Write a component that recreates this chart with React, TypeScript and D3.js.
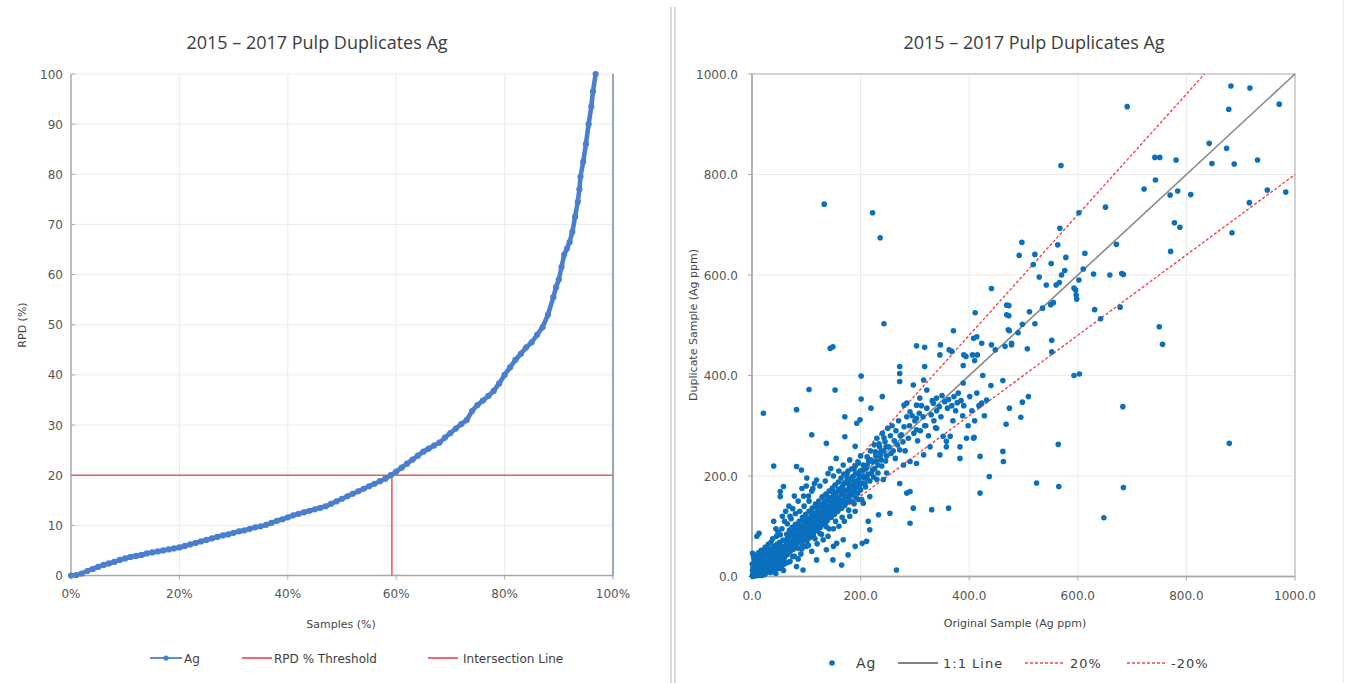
import React from "react";
import * as d3 from "d3";

const W = 1346;
const H = 683;

// ---- Left chart: ranked RPD curve ----
const samplePct = [
  0, 1, 2, 3, 4, 5, 6, 7, 8, 9, 10, 11, 12, 13, 14, 15, 16, 17, 18, 19, 20,
  21, 22, 23, 24, 25, 26, 27, 28, 29, 30, 31, 32, 33, 34, 35, 36, 37, 38, 39, 40,
  41, 42, 43, 44, 45, 46, 47, 48, 49, 50, 51, 52, 53, 54, 55, 56, 57, 58, 59, 60,
  61, 62, 63, 64, 65, 66, 67, 68, 69, 70, 71, 72, 73, 74, 75, 76, 77, 78, 79, 80,
  81, 82, 83, 84, 85, 86, 87, 88, 89, 89.5, 90, 90.5, 91, 91.5, 92, 92.5, 93, 93.5,
  93.8, 94, 94.5, 95, 95.5, 96, 96.3, 96.8,
];
const rpdAg = [
  0, 0.1, 0.4, 0.9, 1.3, 1.7, 2.1, 2.4, 2.7, 3.1, 3.4, 3.7, 3.9, 4.1, 4.4, 4.6, 4.8, 5.0, 5.2, 5.4, 5.6,
  5.9, 6.2, 6.5, 6.8, 7.1, 7.4, 7.7, 8.0, 8.2, 8.5, 8.8, 9.0, 9.3, 9.6, 9.8, 10.1, 10.5, 10.9, 11.2, 11.6,
  12.0, 12.3, 12.6, 12.9, 13.2, 13.5, 13.8, 14.3, 14.8, 15.3, 15.8, 16.3, 16.8, 17.3, 17.8, 18.3, 18.8, 19.3, 20.0, 20.7,
  21.5, 22.3, 23.1, 23.9, 24.7, 25.3, 25.9, 26.5, 27.5, 28.4, 29.3, 30.2, 31.0, 32.8, 34.0, 34.9, 35.8, 36.8, 38.3, 40.0,
  41.5, 43.0, 44.2, 45.5, 46.5, 48.0, 49.5, 52.0, 55.5, 57.5, 59.0, 61.5, 64.0, 65.2, 66.5, 68.5, 71.5, 74.5,
  77.0, 79.5, 82.5, 86.0, 90.0, 93.5, 96.5, 100,
];
const rpdThreshold = 20;
const intersectionPct = 59.2;
const pctTicks = [0, 20, 40, 60, 80, 100];
const rpdTicks = [0, 10, 20, 30, 40, 50, 60, 70, 80, 90, 100];

// ---- Right chart: original vs duplicate (Ag ppm) ----
const ppmTicks = [0, 200, 400, 600, 800, 1000];
const referenceLines = [
  { name: "1:1 Line", slope: 1.0 },
  { name: "20%", slope: 1.2 },
  { name: "-20%", slope: 0.8 },
];

const lowCluster: [number, number][] = [
  [0.5, 1], [1, 3], [2, 0.5], [2, 6], [3, 2], [3, 10], [4, 5], [5, 1], [5, 14], [6, 8], [7, 3], [7, 18],
  [8, 11], [9, 6], [9, 22], [10, 14], [11, 2], [11, 26], [12, 9], [13, 17], [13, 32], [14, 12], [15, 5],
  [15, 22], [16, 38], [17, 15], [18, 8], [18, 28], [19, 19], [20, 44], [21, 12], [21, 33], [22, 24], [23, 4],
  [23, 16], [24, 38], [25, 28], [26, 10], [26, 48], [27, 20], [28, 34], [29, 14], [29, 42], [30, 26], [31, 52],
  [32, 18], [32, 36], [33, 30], [34, 8], [34, 46], [35, 22], [36, 40], [37, 56], [38, 30], [38, 16], [39, 46],
  [40, 36], [41, 24], [41, 60], [42, 42], [43, 32], [44, 52], [45, 18], [45, 40], [46, 64], [47, 46], [48, 30],
  [48, 56], [49, 38], [50, 48], [51, 68], [52, 26], [52, 54], [53, 42], [54, 60], [55, 34], [56, 50], [57, 72],
  [58, 44], [59, 58], [60, 38],
  [1, 46], [3, 38], [4, 28], [6, 42], [8, 36], [12, 47], [14, 44], [17, 52], [13, 86], [9, 80], [24, 58],
  [30, 64], [2, 18], [0.5, 25], [1, 12],
  [18, 2], [25, 6], [30, 10], [36, 12], [42, 14], [44, 6], [50, 16], [55, 20], [58, 12],
];

const midCluster: [number, number][] = [
  [61, 72], [62, 52], [63, 64], [64, 84], [65, 44], [66, 58], [67, 76], [68, 66], [69, 92], [70, 50], [71, 70],
  [72, 60], [73, 82], [74, 98], [75, 66], [76, 54], [77, 78], [78, 88], [79, 70], [80, 104], [81, 62], [82, 84],
  [83, 74], [84, 96], [85, 56], [86, 80], [87, 110], [88, 70], [89, 90], [90, 82], [91, 100], [92, 64], [93, 118],
  [94, 86], [95, 76], [96, 96], [97, 106], [98, 80], [99, 124], [100, 92], [101, 70], [102, 108], [103, 98],
  [104, 86], [105, 130], [106, 114], [107, 94], [108, 80], [109, 120], [110, 104], [111, 136], [112, 96],
  [113, 112], [114, 88], [115, 126], [116, 108], [117, 144], [118, 100], [119, 118], [120, 92], [121, 132],
  [122, 114], [123, 150], [124, 106], [125, 124], [126, 98], [127, 138], [128, 120], [129, 158], [130, 110],
  [131, 128], [132, 144], [133, 104], [134, 134], [135, 118], [136, 164], [137, 126], [138, 150], [139, 112],
  [140, 140], [141, 130], [142, 170], [143, 122], [144, 156], [145, 136], [146, 118], [147, 148], [148, 176],
  [149, 132], [150, 160], [151, 142], [152, 124], [153, 182], [154, 152], [155, 138], [156, 168], [157, 146],
  [158, 130], [159, 188], [160, 158], [161, 144], [162, 174], [163, 150], [164, 196], [165, 136], [166, 164],
  [167, 180], [168, 152], [169, 204], [170, 170], [171, 142], [172, 186], [173, 160], [174, 148], [175, 196],
  [176, 172], [177, 210], [178, 158], [179, 182], [180, 166], [182, 192], [183, 150], [184, 214], [185, 176],
  [186, 162], [187, 200], [188, 184], [189, 170], [190, 220], [191, 190], [192, 156], [193, 204], [194, 178],
  [195, 166], [196, 226], [197, 194], [198, 180], [199, 210], [200, 172],
  [45, 80], [52, 83], [40, 110], [55, 95], [65, 105], [70, 120], [75, 135], [62, 130], [52, 159], [52, 169],
  [58, 179], [40, 220], [82, 219], [91, 212], [101, 196], [119, 192], [131, 159], [85, 150], [95, 160],
  [105, 150], [110, 170], [115, 185], [125, 180], [135, 190], [140, 205], [145, 215], [150, 200], [155, 235],
  [160, 210], [168, 222], [175, 205], [180, 232], [188, 215], [195, 228], [200, 240], [205, 222], [212, 238],
  [21, 325], [82, 332], [105, 372], [153, 371], [110, 282], [137, 265], [171, 318], [171, 278], [193, 305],
  [199, 312], [190, 259], [219, 335], [201, 399], [201, 353], [240, 358], [144, 454], [149, 457], [133, 741],
  [222, 724], [236, 674], [243, 503],
  [82, 20], [94, 13], [119, 33], [137, 53], [149, 33], [150, 60], [156, 66], [165, 23], [168, 73], [177, 43],
  [190, 60], [203, 66], [211, 70], [217, 93], [214, 110], [233, 123], [254, 126], [291, 106], [297, 136],
  [331, 133], [362, 136], [266, 13], [113, 80], [125, 86], [131, 73], [137, 99], [100, 60], [90, 45], [110, 50],
  [120, 65], [140, 80], [150, 95], [160, 100], [170, 110], [180, 120], [190, 130], [196, 153], [202, 153],
  [205, 146], [217, 159], [230, 193], [242, 193], [248, 206], [272, 185], [285, 166], [291, 169], [70, 30],
  [60, 25], [75, 40], [85, 35],
];

// extra samples filling out the dense low-grade band
const fillCluster: [number, number][] = [
  [33, 41], [36, 27], [44, 47], [47, 35], [53, 61], [57, 39], [61, 60], [63, 47], [66, 78], [68, 55], [71, 84],
  [73, 63], [76, 90], [78, 59], [81, 95], [83, 68], [86, 101], [88, 78], [91, 88], [93, 73], [96, 110], [99, 84],
  [101, 115], [104, 100], [106, 77], [109, 128], [111, 92], [114, 122], [116, 96], [119, 140], [121, 104],
  [124, 128], [127, 112], [129, 142], [132, 118], [134, 150], [136, 108], [139, 132], [141, 158], [144, 128],
  [146, 140], [149, 168], [151, 130], [154, 160], [156, 146], [159, 174], [161, 136], [164, 170], [166, 150],
  [169, 186], [171, 160], [174, 172], [176, 190], [179, 150], [181, 178], [184, 198], [186, 172], [189, 186],
  [191, 206], [194, 190], [196, 180], [199, 200], [202, 186], [204, 212], [207, 196], [209, 178], [212, 222],
  [214, 204], [217, 190], [219, 232], [222, 212], [224, 198], [227, 248], [229, 230], [232, 206], [234, 264],
  [237, 248], [239, 220], [243, 276], [247, 258],
  [60, 110], [72, 115], [80, 125], [88, 130], [96, 140], [104, 160], [112, 175], [66, 28], [78, 40], [92, 55],
  [104, 62], [116, 75], [128, 84], [142, 95], [154, 110], [166, 118], [178, 132], [188, 145], [48, 88],
  [35, 68], [28, 55], [20, 30], [16, 26], [10, 40], [6, 22], [22, 50], [27, 12], [39, 10], [46, 22], [58, 30],
  [38, 75], [44, 95], [56, 120], [68, 140], [78, 160], [92, 175], [100, 180],
];

const upperBand: [number, number][] = [
  [205, 200], [208, 185], [210, 215], [212, 195], [215, 230], [218, 250], [220, 205], [222, 228], [225, 262],
  [226, 215], [228, 240], [230, 275], [232, 222], [235, 258], [236, 240], [238, 232], [240, 285], [242, 250],
  [245, 268], [246, 230], [248, 240], [250, 295], [252, 258], [255, 280], [256, 245], [258, 300], [260, 250],
  [262, 270], [264, 235], [265, 290], [268, 262], [270, 310], [272, 252], [273, 280], [275, 282], [278, 268],
  [279, 222], [280, 298], [282, 250], [285, 318], [288, 275], [290, 300], [291, 229], [295, 320], [298, 285],
  [300, 310], [303, 225], [303, 292], [305, 270], [308, 325], [310, 290], [312, 340], [315, 318], [316, 242],
  [318, 300], [320, 300], [322, 335], [325, 280], [328, 258], [330, 322], [332, 350], [335, 310], [338, 296],
  [340, 295], [340, 330], [345, 338], [346, 242], [348, 318], [350, 360], [352, 279], [355, 348], [358, 258],
  [358, 269], [360, 335], [362, 352], [365, 279], [368, 340], [370, 310], [372, 358], [375, 330], [378, 346],
  [380, 365], [383, 258], [383, 235], [385, 350], [388, 320], [389, 385], [390, 340], [395, 275], [398, 300],
  [401, 358], [405, 330], [408, 275], [409, 277], [410, 310], [414, 365], [418, 340], [420, 239], [423, 345],
  [428, 320], [432, 351], [437, 199], [440, 380], [420, 166],
  [272, 418], [318, 418], [363, 451], [272, 388], [297, 381], [316, 391], [272, 404], [309, 355], [322, 371],
  [334, 345], [340, 355], [303, 341], [280, 341], [285, 345], [291, 328], [303, 315], [389, 420], [410, 430],
  [425, 400], [462, 390], [394, 438], [303, 459], [318, 456], [347, 461], [346, 441], [368, 448], [371, 489],
  [411, 525], [408, 474], [414, 477], [423, 464], [441, 573], [469, 540], [469, 521], [472, 491], [466, 458],
  [448, 451], [390, 441], [406, 441], [415, 441], [441, 461], [463, 229], [462, 249],
];

const highValues: [number, number][] = [
  [478, 464], [478, 461], [507, 453], [552, 470], [552, 447], [473, 539], [473, 519], [511, 527], [535, 534],
  [550, 541], [555, 545], [498, 502], [490, 485], [521, 503], [474, 489], [509, 358], [498, 347], [474, 335],
  [495, 317], [468, 303], [564, 263], [879, 265], [524, 186], [565, 179], [684, 177], [648, 117],
  [593, 400], [603, 403], [683, 338], [631, 531], [642, 513], [678, 536], [750, 497], [756, 462], [593, 574],
  [596, 570], [597, 560], [598, 552], [629, 602], [659, 600], [681, 603], [684, 601], [602, 590], [560, 580],
  [566, 585], [542, 580], [529, 596], [570, 600], [576, 609], [610, 612], [551, 623], [518, 621], [578, 635],
  [613, 643], [521, 641], [492, 639], [771, 647], [563, 660], [671, 661], [497, 665], [567, 693], [884, 684],
  [778, 704], [788, 695], [602, 724], [651, 735], [916, 744], [983, 765], [949, 769], [808, 760], [784, 767],
  [770, 759], [722, 771], [743, 789], [569, 818], [888, 821], [847, 822], [931, 829], [781, 829], [742, 834],
  [751, 834], [874, 852], [842, 862], [691, 935], [878, 930], [971, 940], [917, 972], [882, 976],
];

const agPairs = [...lowCluster, ...midCluster, ...fillCluster, ...upperBand, ...highValues];

const AXIS_FONT = "'DejaVu Sans', Verdana, sans-serif";
const TITLE_FONT = "'Open Sans', 'Noto Sans', sans-serif";
const BLUE_LINE = "#4a7fd0";
const RED = "#ee5a63";
const DOT = "#0a6fbd";
const GRID = "#ebebeb";
const AXIS = "#a8a8a8";
const TEXT = "#555";

function LeftChart() {
  const x = d3.scaleLinear().domain([0, 100]).range([71, 613]);
  const y = d3.scaleLinear().domain([0, 100]).range([575.5, 74]);
  const pts = samplePct.map((p, i) => [p, rpdAg[i]] as [number, number]);
  const line = d3
    .line<[number, number]>()
    .x((d) => x(d[0]))
    .y((d) => y(d[1]));

  return (
    <g>
      <text x={317} y={49} textAnchor="middle" fontFamily={TITLE_FONT} fontSize={18} fill="#3c3c3c">
        2015 – 2017 Pulp Duplicates Ag
      </text>
      {rpdTicks.slice(1).map((t) => (
        <line key={"gy" + t} x1={x(0)} x2={x(100)} y1={y(t)} y2={y(t)} stroke={GRID} strokeWidth={1} />
      ))}
      {pctTicks.slice(1, -1).map((t) => (
        <line key={"gx" + t} x1={x(t)} x2={x(t)} y1={y(0)} y2={y(100)} stroke={GRID} strokeWidth={1} />
      ))}
      <line x1={x(0)} x2={x(0)} y1={y(0)} y2={y(100)} stroke={AXIS} strokeWidth={1.5} />
      <line x1={x(0)} x2={x(100)} y1={y(0)} y2={y(0)} stroke={AXIS} strokeWidth={1.5} />
      <line x1={x(100)} x2={x(100)} y1={y(0)} y2={y(100)} stroke="#5b7596" strokeWidth={1.3} />
      {rpdTicks.map((t) => (
        <g key={"ty" + t}>
          <line x1={x(0)} x2={x(0) + 4} y1={y(t)} y2={y(t)} stroke={AXIS} />
          <text x={63} y={y(t) + 4.5} textAnchor="end" fontFamily={AXIS_FONT} fontSize={12} fill={TEXT}>
            {t}
          </text>
        </g>
      ))}
      {pctTicks.map((t) => (
        <g key={"tx" + t}>
          <line x1={x(t)} x2={x(t)} y1={y(0)} y2={y(0) + 4} stroke={AXIS} />
          <text x={x(t)} y={598} textAnchor="middle" fontFamily={AXIS_FONT} fontSize={12} fill={TEXT}>
            {t + "%"}
          </text>
        </g>
      ))}
      <text x={341} y={628} textAnchor="middle" fontFamily={AXIS_FONT} fontSize={11} fill="#444">
        Samples (%)
      </text>
      <text
        transform={`translate(26,325) rotate(-90)`}
        textAnchor="middle"
        fontFamily={AXIS_FONT}
        fontSize={11}
        fill="#444"
      >
        RPD (%)
      </text>
      {/* threshold and intersection */}
      <line x1={x(0)} x2={x(100)} y1={y(rpdThreshold)} y2={y(rpdThreshold)} stroke={RED} strokeWidth={1.6} />
      <line
        x1={x(intersectionPct)}
        x2={x(intersectionPct)}
        y1={y(0)}
        y2={y(rpdThreshold)}
        stroke={RED}
        strokeWidth={1.6}
      />
      {/* ranked RPD series */}
      <path d={line(pts) ?? ""} fill="none" stroke={BLUE_LINE} strokeWidth={4.6} strokeLinejoin="round" />
      {pts.map((d, i) => (
        <circle key={"c" + i} cx={x(d[0])} cy={y(d[1])} r={3.1} fill={BLUE_LINE} />
      ))}
      {/* legend */}
      <g fontFamily={AXIS_FONT} fontSize={12} fill="#404040">
        <line x1={150} x2={182} y1={658} y2={658} stroke={BLUE_LINE} strokeWidth={1.8} />
        <circle cx={166} cy={658} r={2.6} fill={BLUE_LINE} />
        <text x={184} y={662.5}>Ag</text>
        <line x1={242} x2={272} y1={658} y2={658} stroke={RED} strokeWidth={1.8} />
        <text x={274} y={662.5}>RPD % Threshold</text>
        <line x1={428} x2={458} y1={658} y2={658} stroke={RED} strokeWidth={1.8} />
        <text x={463} y={662.5}>Intersection Line</text>
      </g>
    </g>
  );
}

function RightChart() {
  const x = d3.scaleLinear().domain([0, 1000]).range([752, 1295]);
  const y = d3.scaleLinear().domain([0, 1000]).range([576.5, 74]);
  const fmt = d3.format(".1f");

  const refSegment = (slope: number) => {
    const xEnd = Math.min(1000, 1000 / slope);
    return { x1: x(0), y1: y(0), x2: x(xEnd), y2: y(xEnd * slope) };
  };

  return (
    <g>
      <text x={1034} y={49} textAnchor="middle" fontFamily={TITLE_FONT} fontSize={18} fill="#3c3c3c">
        2015 – 2017 Pulp Duplicates Ag
      </text>
      {ppmTicks.slice(1, -1).map((t) => (
        <g key={"g" + t}>
          <line x1={x(0)} x2={x(1000)} y1={y(t)} y2={y(t)} stroke={GRID} />
          <line x1={x(t)} x2={x(t)} y1={y(0)} y2={y(1000)} stroke={GRID} />
        </g>
      ))}
      <rect
        x={x(0)}
        y={y(1000)}
        width={x(1000) - x(0)}
        height={y(0) - y(1000)}
        fill="none"
        stroke="#c4c4c4"
        strokeWidth={1.5}
      />
      <line x1={x(0)} x2={x(0)} y1={y(0)} y2={y(1000)} stroke={AXIS} strokeWidth={1.5} />
      <line x1={x(0)} x2={x(1000)} y1={y(0)} y2={y(0)} stroke={AXIS} strokeWidth={1.5} />
      {ppmTicks.map((t) => (
        <g key={"t" + t}>
          <line x1={x(0) - 4} x2={x(0)} y1={y(t)} y2={y(t)} stroke={AXIS} />
          <text x={738} y={y(t) + 4.5} textAnchor="end" fontFamily={AXIS_FONT} fontSize={12} fill={TEXT}>
            {fmt(t)}
          </text>
          <line x1={x(t)} x2={x(t)} y1={y(0)} y2={y(0) + 4} stroke={AXIS} />
          <text x={x(t)} y={600} textAnchor="middle" fontFamily={AXIS_FONT} fontSize={12} fill={TEXT}>
            {fmt(t)}
          </text>
        </g>
      ))}
      <text x={1015} y={627} textAnchor="middle" fontFamily={AXIS_FONT} fontSize={11} fill="#444">
        Original Sample (Ag ppm)
      </text>
      <text
        transform={`translate(697,325) rotate(-90)`}
        textAnchor="middle"
        fontFamily={AXIS_FONT}
        fontSize={11}
        fill="#444"
      >
        Duplicate Sample (Ag ppm)
      </text>
      {referenceLines.map((r) => {
        const s = refSegment(r.slope);
        return (
          <line
            key={r.name}
            {...s}
            stroke={r.slope === 1 ? "#8a8a8a" : "#f0444e"}
            strokeWidth={r.slope === 1 ? 1.6 : 1.4}
            strokeDasharray={r.slope === 1 ? undefined : "3,2"}
          />
        );
      })}
      {agPairs.map((d, i) => (
        <circle key={i} cx={x(d[0])} cy={y(d[1])} r={2.8} fill={DOT} />
      ))}
      <g fontFamily={AXIS_FONT} fontSize={13} fill="#404040" letterSpacing={1}>
        <circle cx={832} cy={663} r={2.8} fill={DOT} />
        <text x={856} y={668} fontSize={14}>Ag</text>
        <line x1={898} x2={938} y1={663} y2={663} stroke="#555" strokeWidth={1.5} />
        <text x={943} y={668}>1:1 Line</text>
        <line x1={1025} x2={1065} y1={663} y2={663} stroke="#f0444e" strokeWidth={1.4} strokeDasharray="3,2" />
        <text x={1070} y={668}>20%</text>
        <line x1={1127} x2={1167} y1={663} y2={663} stroke="#f0444e" strokeWidth={1.4} strokeDasharray="3,2" />
        <text x={1171} y={668}>-20%</text>
      </g>
    </g>
  );
}

export default function App() {
  return (
    <svg
      width={W}
      height={H}
      style={{ position: "absolute", left: 0, top: 0, background: "#fff" }}
    >
      <rect width={W} height={H} fill="#fff" />
      <line x1={671} x2={671} y1={7} y2={H} stroke="#cfcfcf" strokeWidth={1.5} />
      <line x1={675} x2={675} y1={7} y2={H} stroke="#cfcfcf" strokeWidth={1.5} />
      <line x1={1343} x2={1343} y1={0} y2={H} stroke="#e2e2e2" strokeWidth={1} />
      <LeftChart />
      <RightChart />
    </svg>
  );
}
